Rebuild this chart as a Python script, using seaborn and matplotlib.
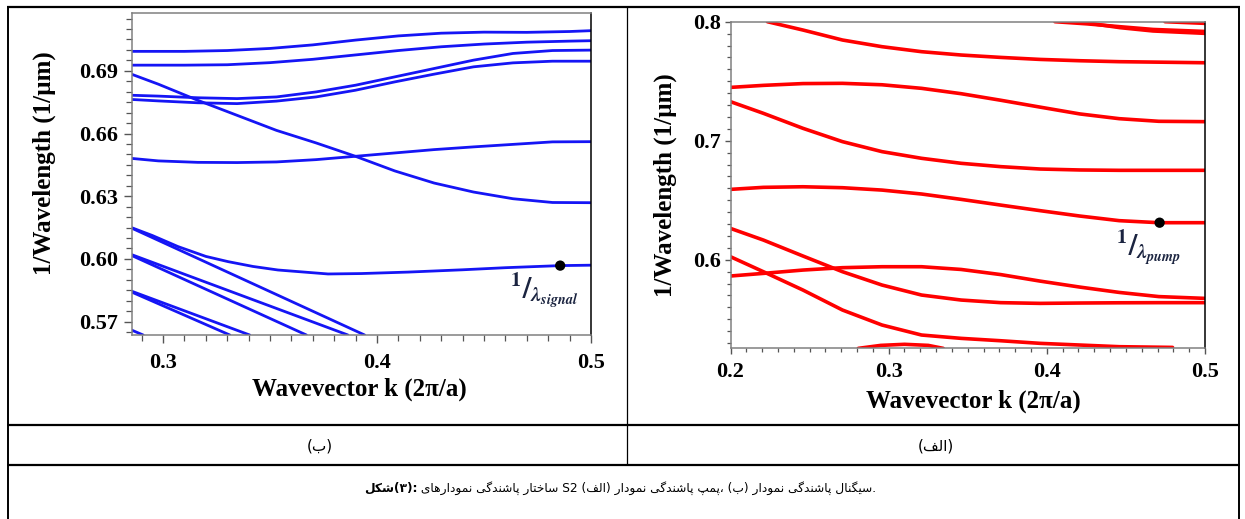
import matplotlib
matplotlib.use("Agg")
import matplotlib.pyplot as plt
from matplotlib.lines import Line2D
from matplotlib.ticker import MultipleLocator, FormatStrFormatter
import pandas as pd
import seaborn as sns

# ---------------- data : signal dispersion (left panel, blue) ----------------
sig_k_top = [0.2852, 0.31, 0.33, 0.35, 0.37, 0.39, 0.41, 0.43, 0.45, 0.47, 0.49, 0.5]
sig_y_top1 = [0.6993, 0.6993, 0.6997, 0.7007, 0.7024, 0.7047, 0.7067, 0.7080, 0.7085, 0.7084, 0.7088, 0.7092]
sig_y_top2 = [0.6927, 0.6927, 0.6929, 0.6939, 0.6955, 0.6976, 0.6997, 0.7015, 0.7028, 0.7037, 0.7042, 0.7044]

sig_k_mid = [0.2852, 0.2978, 0.3162, 0.3346, 0.353, 0.3715, 0.3899, 0.4083, 0.4267, 0.4451, 0.4635, 0.482, 0.5]
sig_y_pair_hi = [0.6783, 0.6779, 0.6771, 0.6767, 0.6775, 0.6799, 0.6831, 0.6871, 0.6911, 0.6951, 0.6983, 0.6997, 0.6999]
sig_y_pair_lo = [0.6763, 0.6756, 0.6747, 0.6743, 0.6755, 0.6775, 0.6807, 0.6847, 0.6884, 0.6919, 0.6938, 0.6946, 0.6946]
sig_y_falling = [0.6884, 0.6836, 0.6759, 0.6687, 0.6615, 0.6555, 0.6491, 0.6421, 0.6363, 0.6320, 0.6288, 0.6270, 0.6269]
sig_y_flat = [0.6481, 0.6469, 0.6462, 0.6461, 0.6464, 0.6475, 0.6491, 0.6507, 0.6523, 0.6536, 0.6548, 0.6560, 0.6561]

sig_k_signal = [0.2852, 0.295, 0.307, 0.32, 0.3304, 0.342, 0.3537, 0.3771, 0.3927, 0.4145, 0.44, 0.46, 0.4856, 0.5]
sig_y_signal = [0.6150, 0.6112, 0.6059, 0.6012, 0.5987, 0.5964, 0.5947, 0.5928, 0.5930, 0.5937, 0.5948, 0.5958, 0.5968, 0.5970]

sig_k_l1 = [0.2852, 0.3942]; sig_y_l1 = [0.6148, 0.5636]
sig_k_l2 = [0.2852, 0.3864]; sig_y_l2 = [0.6021, 0.5636]
sig_k_l3 = [0.2852, 0.3670]; sig_y_l3 = [0.6017, 0.5636]
sig_k_l4 = [0.2852, 0.3405]; sig_y_l4 = [0.5846, 0.5636]
sig_k_l5 = [0.2852, 0.3312]; sig_y_l5 = [0.5842, 0.5636]
sig_k_l6 = [0.2852, 0.2907]; sig_y_l6 = [0.5660, 0.5636]

signal_point_k = [0.4856]
signal_point_y = [0.5968]

# ---------------- data : pump dispersion (right panel, red) ----------------
pmp_k = [0.2, 0.2208, 0.2458, 0.2708, 0.2958, 0.3208, 0.3458, 0.3708, 0.3958, 0.4208, 0.4458, 0.4708, 0.5]
pmp_k_b1 = [0.2233, 0.2458, 0.2708, 0.2958, 0.3208, 0.3458, 0.3708, 0.3958, 0.4208, 0.4458, 0.4708, 0.5]
pmp_y_b1 = [0.800, 0.7930, 0.7846, 0.7790, 0.7748, 0.7720, 0.7700, 0.7683, 0.7672, 0.7664, 0.7660, 0.7655]
pmp_y_b2 = [0.7448, 0.7465, 0.7480, 0.7482, 0.7470, 0.7440, 0.7395, 0.7340, 0.7282, 0.7225, 0.7185, 0.7163, 0.7160]
pmp_y_b3 = [0.7328, 0.7230, 0.7104, 0.6992, 0.6908, 0.6852, 0.6810, 0.6782, 0.6762, 0.6754, 0.6751, 0.6751, 0.6751]
pmp_y_b4 = [0.6591, 0.6608, 0.6613, 0.6605, 0.6585, 0.6552, 0.6507, 0.6459, 0.6412, 0.6367, 0.6328, 0.6311, 0.6311]
pmp_y_b5 = [0.6263, 0.6165, 0.6031, 0.5899, 0.5787, 0.5703, 0.5661, 0.5639, 0.5633, 0.5636, 0.5638, 0.5639, 0.5639]
pmp_y_b6 = [0.5863, 0.5885, 0.5913, 0.5933, 0.5941, 0.5941, 0.5918, 0.5875, 0.5820, 0.5770, 0.5725, 0.5690, 0.5675]
pmp_k_b7 = [0.2, 0.2208, 0.2458, 0.2708, 0.2958, 0.3208, 0.3458, 0.3708, 0.3958, 0.4208, 0.4458, 0.4795]
pmp_y_b7 = [0.6025, 0.5899, 0.5745, 0.5577, 0.5451, 0.5367, 0.5339, 0.5319, 0.5297, 0.5283, 0.5269, 0.5263]
pmp_k_b8 = [0.2808, 0.2950, 0.3100, 0.3250, 0.3345]
pmp_y_b8 = [0.5255, 0.5280, 0.5289, 0.5280, 0.5255]
pmp_k_b9 = [0.4051, 0.4252, 0.4462, 0.4671, 0.5]
pmp_y_b9 = [0.8000, 0.7982, 0.7958, 0.7935, 0.7918]
pmp_k_b10 = [0.4200, 0.4462, 0.4671, 0.5]
pmp_y_b10 = [0.8000, 0.7950, 0.7922, 0.7902]
pmp_k_b11 = [0.4747, 0.5]
pmp_y_b11 = [0.8000, 0.7986]

pump_point_k = [0.4713]
pump_point_y = [0.6311]

# ---------------- texts ----------------
x_label = "Wavevector k (2\u03c0/a)"
y_label = "1/Wavelength (1/\u00b5m)"
sig_label = r"$^{1}/_{\lambda_{signal}}$"
pump_label = r"$^{1}/_{\lambda_{pump}}$"
panel_b = "(ب)"
panel_a = "(الف)"
caption_bold = "شکل(۳):"
caption_rest = " نمودارهای پاشندگی ساختار S2 (الف) نمودار پاشندگی پمپ، (ب) نمودار پاشندگی سیگنال."

# ---------------- Persian shaping (presentation forms, per-word RTL) ----------------
FORMS = {
    'ا': ('\uFE8D', '\uFE8E', None, None),
    'ب': ('\uFE8F', '\uFE90', '\uFE91', '\uFE92'),
    'پ': ('\uFB56', '\uFB57', '\uFB58', '\uFB59'),
    'ت': ('\uFE95', '\uFE96', '\uFE97', '\uFE98'),
    'خ': ('\uFEA5', '\uFEA6', '\uFEA7', '\uFEA8'),
    'د': ('\uFEA9', '\uFEAA', None, None),
    'ر': ('\uFEAD', '\uFEAE', None, None),
    'س': ('\uFEB1', '\uFEB2', '\uFEB3', '\uFEB4'),
    'ش': ('\uFEB5', '\uFEB6', '\uFEB7', '\uFEB8'),
    'ف': ('\uFED1', '\uFED2', '\uFED3', '\uFED4'),
    'ک': ('\uFB8E', '\uFB8F', '\uFB90', '\uFB91'),
    'گ': ('\uFB92', '\uFB93', '\uFB94', '\uFB95'),
    'ل': ('\uFEDD', '\uFEDE', '\uFEDF', '\uFEE0'),
    'م': ('\uFEE1', '\uFEE2', '\uFEE3', '\uFEE4'),
    'ن': ('\uFEE5', '\uFEE6', '\uFEE7', '\uFEE8'),
    'ه': ('\uFEE9', '\uFEEA', '\uFEEB', '\uFEEC'),
    'و': ('\uFEED', '\uFEEE', None, None),
    'ی': ('\uFBFC', '\uFBFD', '\uFBFE', '\uFBFF'),
}


def shape_fa(text):
    n = len(text)
    shaped = []
    for i, ch in enumerate(text):
        if ch in FORMS:
            prev = text[i - 1] if i > 0 else ''
            nxt = text[i + 1] if i + 1 < n else ''
            jp = prev in FORMS and FORMS[prev][2] is not None
            jn = FORMS[ch][2] is not None and nxt in FORMS
            iso, fin, ini, med = FORMS[ch]
            f = med if (jp and jn) else fin if jp else ini if jn else iso
            shaped.append((f, True))
        else:
            shaped.append((ch, False))
    res, run = [], []
    for c, isar in shaped:
        if isar:
            run.append(c)
        else:
            res.extend(reversed(run))
            run = []
            res.append(c)
    res.extend(reversed(run))
    return ''.join(res)


# ---------------- style ----------------
sns.set_theme(style="ticks")
plt.rcParams["font.family"] = ["Liberation Serif", "DejaVu Serif"]
plt.rcParams["font.weight"] = "bold"
plt.rcParams["axes.labelweight"] = "bold"
plt.rcParams["mathtext.fontset"] = "stix"

W, H = 1245, 519
fig = plt.figure(figsize=(W / 100, H / 100), dpi=100)
fig.patch.set_facecolor("white")


def frac_rect(left, right, top, bottom):
    return [left / W, 1 - bottom / H, (right - left) / W, (bottom - top) / H]


ax_s = fig.add_axes(frac_rect(131.6, 591, 12.7, 335))
ax_p = fig.add_axes(frac_rect(730.5, 1205, 21.7, 348))


def long_frame(pairs):
    rows = []
    for b, (ks, ys) in enumerate(pairs):
        for k, y in zip(ks, ys):
            rows.append({"band": b, "k": k, "f": y})
    return pd.DataFrame(rows)


sig_df = long_frame([
    (sig_k_top, sig_y_top1), (sig_k_top, sig_y_top2),
    (sig_k_mid, sig_y_pair_hi), (sig_k_mid, sig_y_pair_lo),
    (sig_k_mid, sig_y_falling), (sig_k_mid, sig_y_flat),
    (sig_k_signal, sig_y_signal),
    (sig_k_l1, sig_y_l1), (sig_k_l2, sig_y_l2), (sig_k_l3, sig_y_l3),
    (sig_k_l4, sig_y_l4), (sig_k_l5, sig_y_l5), (sig_k_l6, sig_y_l6),
])
pmp_df = long_frame([
    (pmp_k_b1, pmp_y_b1), (pmp_k, pmp_y_b2), (pmp_k, pmp_y_b3),
    (pmp_k, pmp_y_b4), (pmp_k, pmp_y_b5), (pmp_k, pmp_y_b6),
    (pmp_k_b7, pmp_y_b7), (pmp_k_b8, pmp_y_b8), (pmp_k_b9, pmp_y_b9),
    (pmp_k_b10, pmp_y_b10), (pmp_k_b11, pmp_y_b11),
])

sns.lineplot(data=sig_df, x="k", y="f", units="band", estimator=None, sort=False,
             color="#1515f5", lw=2.0, ax=ax_s, legend=False)
sns.lineplot(data=pmp_df, x="k", y="f", units="band", estimator=None, sort=False,
             color="#ff0000", lw=2.6, ax=ax_p, legend=False)

sns.scatterplot(x=signal_point_k, y=signal_point_y, color="black", s=55, ax=ax_s,
                zorder=5, edgecolor="none")
sns.scatterplot(x=pump_point_k, y=pump_point_y, color="black", s=55, ax=ax_p,
                zorder=5, edgecolor="none")

# axes limits / ticks
ax_s.set_xlim(0.2853, 0.5)
ax_s.set_ylim(0.5636, 0.7178)
ax_s.xaxis.set_major_locator(MultipleLocator(0.1))
ax_s.xaxis.set_minor_locator(MultipleLocator(0.01))
ax_s.yaxis.set_major_locator(MultipleLocator(0.03))
ax_s.yaxis.set_minor_locator(MultipleLocator(0.005))
ax_s.xaxis.set_major_formatter(FormatStrFormatter("%.1f"))
ax_s.yaxis.set_major_formatter(FormatStrFormatter("%.2f"))

ax_p.set_xlim(0.2, 0.5)
ax_p.set_ylim(0.5258, 0.8)
ax_p.xaxis.set_major_locator(MultipleLocator(0.1))
ax_p.xaxis.set_minor_locator(MultipleLocator(0.01))
ax_p.yaxis.set_major_locator(MultipleLocator(0.1))
ax_p.yaxis.set_minor_locator(MultipleLocator(0.01))
ax_p.xaxis.set_major_formatter(FormatStrFormatter("%.1f"))
ax_p.yaxis.set_major_formatter(FormatStrFormatter("%.1f"))

for ax, maj, mnr, xpad, ypad in [(ax_s, 6.0, 4.0, 7, 4), (ax_p, 4.0, 3.0, 6, 3)]:
    ax.set_facecolor("white")
    ax.grid(False)
    ax.tick_params(which="major", direction="out", length=maj, width=1.0,
                   color="#555555", labelsize=16, labelcolor="black")
    ax.tick_params(which="minor", direction="out", length=mnr, width=0.9, color="#555555")
    ax.tick_params(axis="x", which="major", pad=xpad)
    ax.tick_params(axis="y", which="major", pad=ypad)
    for side in ["top", "left", "bottom"]:
        ax.spines[side].set_color("#808080")
        ax.spines[side].set_linewidth(1.1)
    ax.spines["right"].set_color("black")
    ax.spines["right"].set_linewidth(1.1)
    for lab in ax.get_xticklabels() + ax.get_yticklabels():
        lab.set_fontweight("bold")
    ax.set_xlabel(x_label, fontsize=18, fontweight="bold", color="black")
    ax.set_ylabel(y_label, fontsize=18, fontweight="bold", color="black")

ax_s.xaxis.set_label_coords(0.495, -0.133)
ax_s.yaxis.set_label_coords(-0.165, 0.534)
ax_p.xaxis.set_label_coords(0.511, -0.126)
ax_p.yaxis.set_label_coords(-0.113, 0.50)

# annotations next to the marked points
ax_s.text(0.4621, 0.5943, sig_label, fontsize=21, color="#1b2440", ha="left", va="top")
ax_p.text(0.4437, 0.6266, pump_label, fontsize=21, color="#1b2440", ha="left", va="top")

# ---------------- table frame ----------------
def fline(x0, y0, x1, y1, lw):
    fig.add_artist(Line2D([x0 / W, x1 / W], [1 - y0 / H, 1 - y1 / H],
                          transform=fig.transFigure, color="black", lw=lw,
                          solid_capstyle="butt"))


fline(7, 7, 1240, 7, 1.6)
fline(7, 425, 1240, 425, 1.6)
fline(7, 465, 1240, 465, 1.6)
fline(8, 6, 8, 519, 1.4)
fline(1239, 6, 1239, 519, 1.4)
fline(627, 7, 627, 465, 0.9)

fa_font = ["DejaVu Sans"]
fig.text(320 / W, 1 - 446 / H, shape_fa(panel_b), fontsize=11, fontweight="normal",
         family=fa_font, ha="center", va="center", color="black")
fig.text(936 / W, 1 - 446 / H, shape_fa(panel_a), fontsize=11, fontweight="normal",
         family=fa_font, ha="center", va="center", color="black")

renderer = fig.canvas.get_renderer()
cap_y = 1 - 488 / H
t_bold = fig.text(0, cap_y, shape_fa(caption_bold), fontsize=8.8, fontweight="bold",
                  family=fa_font, ha="left", va="center", color="black")
t_rest = fig.text(0, cap_y, shape_fa(caption_rest), fontsize=8.8, fontweight="normal",
                  family=fa_font, ha="left", va="center", color="black")
wb = t_bold.get_window_extent(renderer).width
wr = t_rest.get_window_extent(renderer).width
x0 = 620 - (wb + wr) / 2
t_bold.set_x(x0 / W)
t_rest.set_x((x0 + wb) / W)

fig.savefig("out.png", dpi=100, facecolor="white")
